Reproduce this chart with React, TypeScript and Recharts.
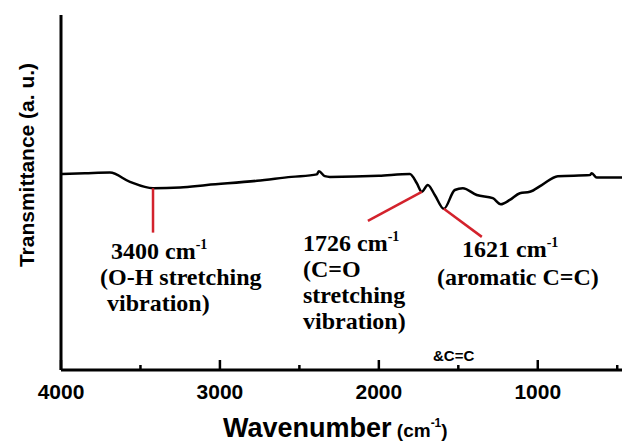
import { LineChart, Line, XAxis, YAxis, ReferenceLine } from "recharts";

// FTIR spectrum (wavenumber in cm-1, transmittance a.u.)
const wavenumber = [
  4000, 3850, 3692, 3566, 3421, 3250, 3082, 2767, 2550, 2390, 2377, 2340,
  2308, 2000, 1805, 1761, 1730, 1692, 1648, 1591, 1522, 1472, 1384, 1283,
  1233, 1176, 1113, 1050, 975, 874, 673, 660, 629, 470,
];
const transmittance = [
  55.2, 55.4, 55.6, 53.0, 51.2, 51.4, 52.1, 53.3, 54.4, 55.1, 56.0, 54.6,
  54.4, 54.7, 55.2, 52.6, 50.2, 52.1, 49.3, 45.4, 50.7, 51.2, 49.3, 48.4,
  46.7, 47.9, 49.8, 50.2, 52.1, 54.6, 54.9, 55.4, 54.2, 54.2,
];

const xTicks = [4000, 3500, 3000, 2500, 2000, 1500, 1000, 500];

// red pointer lines: from the band on the curve to the label
const pointerFromX = [3421, 1730, 1591];
const pointerFromY = [51.2, 50.2, 45.4];
const pointerToX = [3421, 2069, 1352];
const pointerToY = [38.7, 42.0, 37.5];

const rows = wavenumber.map((w, i) => ({ w, t: transmittance[i] }));

const serif = "'Liberation Serif', 'Times New Roman', serif";
const sans = "'Liberation Sans', Arial, sans-serif";

function Tick(props: any) {
  const { x, y, payload } = props;
  const major = payload.value % 1000 === 0;
  return (
    <g>
      <line
        x1={x}
        x2={x}
        y1={y}
        y2={y - (major ? 10 : 5)}
        stroke="#000"
        strokeWidth={2.5}
      />
      {major && (
        <text
          x={x}
          y={y + 29}
          textAnchor="middle"
          fontFamily={sans}
          fontWeight="bold"
          fontSize={21}
          fill="#000"
        >
          {payload.value}
        </text>
      )}
    </g>
  );
}

function Ann({ x, y, lines, first }: { x: number[]; y: number[]; lines: string[]; first: string }) {
  return (
    <g fontFamily={serif} fontWeight="bold" fontSize={24} fill="#000">
      <text x={x[0]} y={y[0]}>
        {first} cm
        <tspan fontSize={14} dy={-10}>
          -1
        </tspan>
      </text>
      {lines.map((l, i) => (
        <text key={l} x={x[i + 1]} y={y[i + 1]}>
          {l}
        </text>
      ))}
    </g>
  );
}

export default function App() {
  return (
    <div style={{ position: "absolute", left: 0, top: 0, width: 622, height: 448, background: "#fff" }}>
      <LineChart
        width={622}
        height={448}
        data={rows}
        margin={{ top: 15, right: 0, bottom: 0, left: 61 }}
      >
        <XAxis
          type="number"
          dataKey="w"
          domain={[470, 4000]}
          reversed
          allowDataOverflow
          ticks={xTicks}
          interval={0}
          tickSize={0}
          tickMargin={0}
          tickLine={false}
          tick={<Tick />}
          height={78}
          axisLine={{ stroke: "#000", strokeWidth: 3 }}
        />
        <YAxis type="number" domain={[0, 100]} hide />
        <ReferenceLine x={4000} stroke="#000" strokeWidth={3} />
        <Line
          type="monotone"
          dataKey="t"
          stroke="#000"
          strokeWidth={2.5}
          dot={false}
          isAnimationActive={false}
        />
        {pointerFromX.map((px, i) => (
          <ReferenceLine
            key={px}
            segment={[
              { x: px, y: pointerFromY[i] },
              { x: pointerToX[i], y: pointerToY[i] },
            ]}
            stroke="#d3222c"
            strokeWidth={2.5}
          />
        ))}
      </LineChart>
      <svg
        width={622}
        height={448}
        style={{ position: "absolute", left: 0, top: 0, pointerEvents: "none" }}
      >
        <Ann first="3400" x={[111, 100, 107]} y={[259, 285, 311]} lines={["(O-H stretching", "vibration)"]} />
        <Ann
          first="1726"
          x={[303, 303, 303, 303]}
          y={[251, 277, 303, 329]}
          lines={["(C=O", "stretching", "vibration)"]}
        />
        <Ann first="1621" x={[462, 437]} y={[257, 285]} lines={["(aromatic C=C)"]} />
        <text x={433} y={361} fontFamily={sans} fontWeight="bold" fontSize={15} fill="#000">
          &amp;C=C
        </text>
        <text
          transform="translate(34 165) rotate(-90)"
          textAnchor="middle"
          fontFamily={sans}
          fontWeight="bold"
          fontSize={21}
          fill="#000"
        >
          Transmittance (a. u.)
        </text>
        <text x={223} y={437} fontFamily={sans} fontWeight="bold" fill="#000">
          <tspan fontSize={27}>Wavenumber</tspan>
          <tspan fontSize={19}> (cm</tspan>
          <tspan fontSize={12} dy={-10}>-1</tspan>
          <tspan fontSize={19} dy={10}>)</tspan>
        </text>
      </svg>
    </div>
  );
}
